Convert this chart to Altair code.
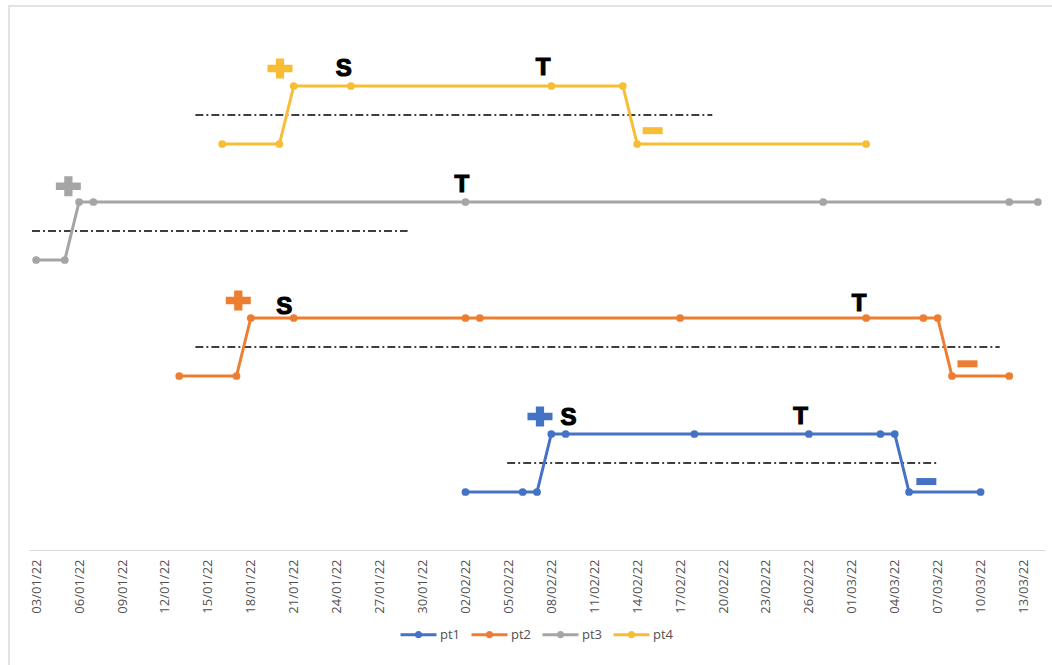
import altair as alt
import pandas as pd

# ---------------- data ----------------
series_names = ["pt1", "pt2", "pt3", "pt4"]
series_colors = ["#4472C4", "#ED7D31", "#A5A5A5", "#F7BE35"]

pt1_dates = ["2022-02-02", "2022-02-06", "2022-02-07", "2022-02-08", "2022-02-09", "2022-02-18",
             "2022-02-26", "2022-03-03", "2022-03-04", "2022-03-05", "2022-03-10"]
pt1_values = [0, 0, 0, 1, 1, 1, 1, 1, 1, 0, 0]

pt2_dates = ["2022-01-13", "2022-01-17", "2022-01-18", "2022-01-21", "2022-02-02", "2022-02-03",
             "2022-02-17", "2022-03-02", "2022-03-06", "2022-03-07", "2022-03-08", "2022-03-12"]
pt2_values = [2, 2, 3, 3, 3, 3, 3, 3, 3, 3, 2, 2]

pt3_dates = ["2022-01-03", "2022-01-05", "2022-01-06", "2022-01-07", "2022-02-02", "2022-02-27",
             "2022-03-12", "2022-03-14"]
pt3_values = [4, 4, 5, 5, 5, 5, 5, 5]

pt4_dates = ["2022-01-16", "2022-01-20", "2022-01-21", "2022-01-25", "2022-02-08", "2022-02-13",
             "2022-02-14", "2022-03-02"]
pt4_values = [6, 6, 7, 7, 7, 7, 6, 6]

# dash-dot threshold lines
thr_series = ["pt1", "pt2", "pt3", "pt4"]
thr_level = [0.5, 2.5, 4.5, 6.5]
thr_start = ["2022-02-04T22:00", "2022-01-14T03:00", "2022-01-02T17:00", "2022-01-14T03:00"]
thr_end = ["2022-03-06T22:00", "2022-03-11T08:00", "2022-01-28T23:00", "2022-02-19T06:00"]

# "+" markers
plus_series = ["pt1", "pt2", "pt3", "pt4"]
plus_dates = ["2022-02-07T05:00", "2022-01-17T03:00", "2022-01-05T06:00", "2022-01-20T01:00"]
plus_level = [1.30, 3.30, 5.27, 7.30]

# "-" markers
minus_series = ["pt1", "pt2", "pt4"]
minus_dates = ["2022-03-06T05:00", "2022-03-09T02:00", "2022-02-15T02:00"]
minus_level = [0.18, 2.21, 6.23]

# letter labels
letter_text = ["S", "T", "S", "T", "T", "S", "T"]
letter_dates = ["2022-02-09T05:00", "2022-02-25T10:00", "2022-01-20T08:00", "2022-03-01T12:00",
                "2022-02-01T18:00", "2022-01-24T12:00", "2022-02-07T10:00"]
letter_level = [1.27, 1.29, 3.19, 3.25, 5.29, 7.30, 7.31]

tick_labels = ["2022-01-03", "2022-01-06", "2022-01-09", "2022-01-12", "2022-01-15", "2022-01-18",
               "2022-01-21", "2022-01-24", "2022-01-27", "2022-01-30", "2022-02-02", "2022-02-05",
               "2022-02-08", "2022-02-11", "2022-02-14", "2022-02-17", "2022-02-20", "2022-02-23",
               "2022-02-26", "2022-03-01", "2022-03-04", "2022-03-07", "2022-03-10", "2022-03-13"]

# ---------------- tables ----------------
rows = []
for name, ds, vs in [("pt1", pt1_dates, pt1_values), ("pt2", pt2_dates, pt2_values),
                     ("pt3", pt3_dates, pt3_values), ("pt4", pt4_dates, pt4_values)]:
    for i, (d, v) in enumerate(zip(ds, vs)):
        rows.append({"series": name, "date": d + "T00:00", "value": v, "i": i})
df = pd.DataFrame(rows)

thr_df = pd.DataFrame({"series": thr_series, "level": thr_level, "start": thr_start, "end": thr_end})
plus_df = pd.DataFrame({"series": plus_series, "date": plus_dates, "level": plus_level})
minus_df = pd.DataFrame({"series": minus_series, "date": minus_dates, "level": minus_level})
letter_df = pd.DataFrame({"text": letter_text, "date": letter_dates, "level": letter_level})


def to_dt(s, hours=0):
    y, m, d = [int(p) for p in s.split("-")]
    return alt.DateTime(year=y, month=m, date=d, hours=hours)


tick_values = [to_dt(t) for t in tick_labels]

x_scale = alt.Scale(domain=[to_dt("2022-01-02", 12), to_dt("2022-03-14", 12)])
y_scale = alt.Scale(domain=[-1, 8], nice=False, zero=False)
color_scale = alt.Scale(domain=series_names, range=series_colors)

x_axis = alt.Axis(values=tick_values, format="%d/%m/%y", labelAngle=-90, labelFontSize=13,
                  labelFont="Open Sans", labelColor="#505050", ticks=False, grid=False,
                  domainColor="#D9D9D9", domainWidth=1.2, title=None, labelPadding=9,
                  labelOverlap=False, labelFlush=False)

legend_path = "M-1,0L1,0M-0.12,0A0.12,0.12,0,1,1,0.12,0A0.12,0.12,0,1,1,-0.12,0Z"
legend = alt.Legend(
    title=None, orient="none", legendX=370, legendY=587, direction="horizontal",
    columns=4, symbolType=legend_path, symbolSize=1296, symbolStrokeWidth=3,
    labelFontSize=13, labelFont="Open Sans", labelColor="#505050",
    labelOffset=2, columnPadding=4, padding=0,
)

plus_path = "M-1,-0.3H-0.33V-0.8H0.33V-0.3H1V0.3H0.33V0.8H-0.33V0.3H-1Z"
minus_path = "M-1,-0.35H1V0.35H-1Z"

frame = alt.Chart(pd.DataFrame({"a": [0]})).mark_rect(
    fillOpacity=0, stroke="#D9D9D9", strokeWidth=1.5
).encode(x=alt.value(-20), x2=alt.value(1100), y=alt.value(-22), y2=alt.value(700))

rules = alt.Chart(thr_df).mark_rule(color="black", strokeWidth=1.5, strokeDash=[8, 3, 2, 3]).encode(
    x=alt.X("start:T", scale=x_scale, axis=x_axis),
    x2="end:T",
    y=alt.Y("level:Q", scale=y_scale, axis=None),
)

lines = alt.Chart(df).mark_line(strokeWidth=3).encode(
    x=alt.X("date:T", scale=x_scale, axis=x_axis),
    y=alt.Y("value:Q", scale=y_scale, axis=None),
    color=alt.Color("series:N", scale=color_scale, legend=legend),
    order="i:Q",
)

points = alt.Chart(df).mark_point(filled=True, size=60, opacity=1).encode(
    x=alt.X("date:T", scale=x_scale, axis=x_axis),
    y=alt.Y("value:Q", scale=y_scale, axis=None),
    color=alt.Color("series:N", scale=color_scale, legend=None),
)

pluses = alt.Chart(plus_df).mark_point(filled=True, shape=plus_path, size=625, opacity=1).encode(
    x=alt.X("date:T", scale=x_scale, axis=x_axis),
    y=alt.Y("level:Q", scale=y_scale, axis=None),
    color=alt.Color("series:N", scale=color_scale, legend=None),
)

minuses = alt.Chart(minus_df).mark_point(filled=True, shape=minus_path, size=400, opacity=1).encode(
    x=alt.X("date:T", scale=x_scale, axis=x_axis),
    y=alt.Y("level:Q", scale=y_scale, axis=None),
    color=alt.Color("series:N", scale=color_scale, legend=None),
)

letters = alt.Chart(letter_df).mark_text(
    font="Liberation Sans", fontWeight="bold", fontSize=24, color="black",
    stroke="black", strokeWidth=1.2, align="center", baseline="middle"
).encode(
    x=alt.X("date:T", scale=x_scale, axis=x_axis),
    y=alt.Y("level:Q", scale=y_scale, axis=None),
    text="text:N",
)

chart = alt.layer(frame, rules, lines, points, pluses, minuses, letters).properties(
    width=1016, height=522,
    autosize=alt.AutoSizeParams(type="none"),
    padding={"left": 29, "top": 28, "right": 7, "bottom": 115},
    background="white",
).configure_view(stroke=None)

chart.save("out.html", embed_options={"renderer": "svg", "actions": False})
